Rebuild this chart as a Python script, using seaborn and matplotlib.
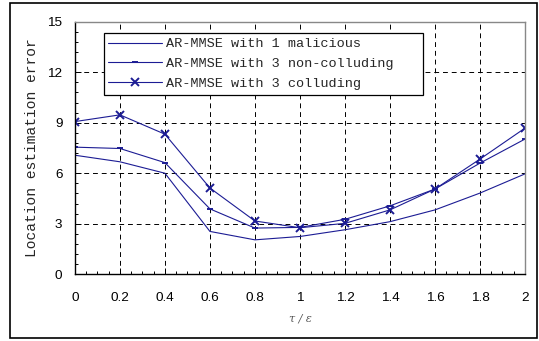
import numpy as np
import pandas as pd
import matplotlib
matplotlib.use("Agg")
import matplotlib.pyplot as plt
import seaborn as sns
from matplotlib.patches import Rectangle
from matplotlib.ticker import MultipleLocator

# data
ratio = [0, 0.2, 0.4, 0.6, 0.8, 1.0, 1.2, 1.4, 1.6, 1.8, 2.0]
one_malicious = [7.07, 6.68, 6.0, 2.54, 2.04, 2.24, 2.64, 3.12, 3.82, 4.82, 5.96]
three_noncolluding = [7.55, 7.47, 6.63, 3.88, 2.74, 2.78, 3.26, 4.06, 5.06, 6.6, 8.03]
three_colluding = [9.07, 9.47, 8.32, 5.12, 3.16, 2.76, 3.02, 3.82, 5.06, 6.84, 8.68]
series_names = ["AR-MMSE with 1 malicious",
                "AR-MMSE with 3 non-colluding",
                "AR-MMSE with 3 colluding"]

df = pd.DataFrame({
    "ratio": ratio * 3,
    "error": one_malicious + three_noncolluding + three_colluding,
    "series": [n for n in series_names for _ in ratio],
})

sns.set_style("white")
line_color = "#1c1c94"

fig = plt.figure(figsize=(5.39, 3.41), dpi=100)
ax = fig.add_axes([0.139, 0.196, 0.835, 0.740])

markers = {series_names[0]: None, series_names[1]: "_", series_names[2]: "x"}
sizes = {series_names[0]: 0, series_names[1]: 4, series_names[2]: 5.5}
for name in series_names:
    sns.lineplot(data=df[df["series"] == name], x="ratio", y="error", ax=ax,
                 color=line_color, linewidth=0.8, marker=markers[name],
                 markersize=sizes[name], markeredgewidth=1.4,
                 markeredgecolor=line_color, markerfacecolor=line_color,
                 label=name)

ax.set_xlim(0, 2)
ax.set_ylim(0, 15)
ax.xaxis.set_minor_locator(MultipleLocator(0.05))
ax.yaxis.set_major_locator(MultipleLocator(3))
ax.yaxis.set_minor_locator(MultipleLocator(0.6))
ax.set_xticks(ratio)
ax.set_xticklabels(["0", "0.2", "0.4", "0.6", "0.8", "1", "1.2", "1.4", "1.6", "1.8", "2"])
ax.tick_params(axis="both", which="both", direction="in", bottom=True, left=True,
               labelsize=9.7, colors="black")
ax.tick_params(axis="x", which="major", pad=13)
ax.tick_params(axis="y", which="major", pad=9)
ax.tick_params(axis="both", which="major", length=4, width=0.7)
ax.tick_params(axis="both", which="minor", length=2.5, width=0.7)
for lab in ax.get_xticklabels() + ax.get_yticklabels():
    lab.set_fontfamily("Liberation Sans")

ax.grid(True, which="major", linestyle=(0, (5, 4)), color="black", linewidth=0.7)
for side in ["top", "right"]:
    ax.spines[side].set_color("#888888")
for side in ["left", "bottom"]:
    ax.spines[side].set_color("black")
for sp in ax.spines.values():
    sp.set_linewidth(1.0)

ax.set_xlabel("τ / ε", fontsize=8, fontstyle="italic", color="#555555",
              family="DejaVu Serif", labelpad=7)
ax.set_ylabel("Location estimation error", fontsize=10.5, family="Liberation Mono",
              labelpad=6)

handles, labels = ax.get_legend_handles_labels()
leg = ax.legend(handles, [l + "   " for l in labels], loc="upper left",
                bbox_to_anchor=(0.064, 0.955), frameon=True,
                fancybox=False, framealpha=1, edgecolor="black", handlelength=4.0,
                handletextpad=0.3, borderpad=0.35, labelspacing=0.55,
                borderaxespad=0, prop={"family": "Liberation Mono", "size": 9.7})
leg.get_frame().set_linewidth(0.9)

fig.patches.append(Rectangle((0.019, 0.009), 0.977, 0.982, transform=fig.transFigure,
                             fill=False, edgecolor="black", linewidth=1.2))

fig.savefig("out.png", dpi=100)
